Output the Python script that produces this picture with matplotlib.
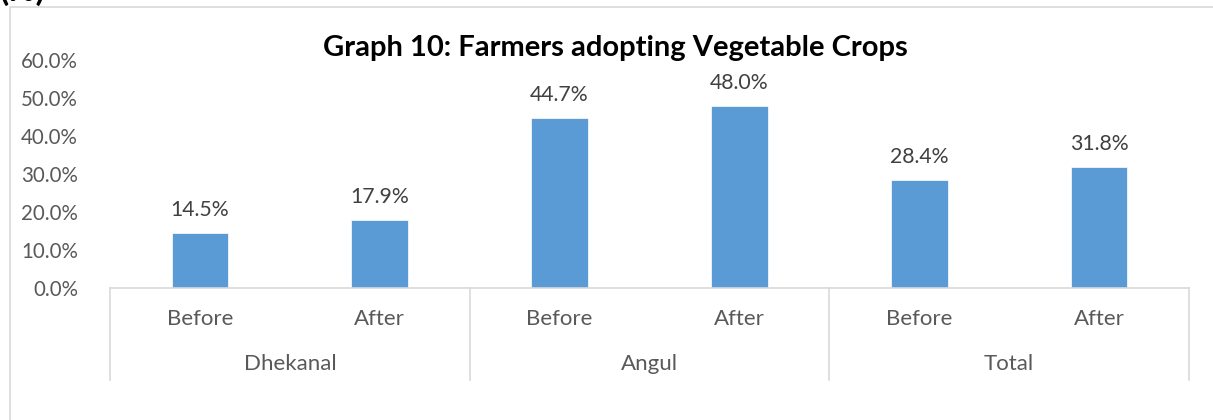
import matplotlib.pyplot as plt
from matplotlib.patches import Rectangle
import matplotlib.transforms as mtransforms

# Share of farmers growing vegetable crops, per block
regions = ['Dhekanal', 'Angul', 'Total']
periods = ['Before', 'After']
adoption = [14.5, 17.9, 44.7, 48.0, 28.4, 31.8]
y_ticks = [0, 10, 20, 30, 40, 50, 60]

plt.rcParams['font.family'] = ['Lato', 'DejaVu Sans']

W, H = 1213, 420
fig = plt.figure(figsize=(W / 100, H / 100), dpi=100)
fig.patch.set_facecolor('white')

# Outer chart frame
fig.patches.append(Rectangle((10 / W, -0.1), 1.2, 1 - 7 / H + 0.1,
                             transform=fig.transFigure, fill=False,
                             edgecolor='#D9D9D9', linewidth=1.2))
fig.text(0, 1 - 6 / H, '(%)', ha='left', va='bottom', fontsize=24,
         color='#000000', fontweight='bold')

ax = fig.add_axes([110 / W, 1 - 288 / H, (1189 - 110) / W, (288 - 60) / H])

x = list(range(len(adoption)))
ax.bar(x, adoption, width=0.315, color='#5B9BD5', edgecolor='white', linewidth=0.5, zorder=2)

for xi, v in zip(x, adoption):
    ax.text(xi, v + 3.4, f'{v:.1f}%', ha='center', va='bottom',
            fontsize=15.3, color='#404040')

ax.set_xlim(-0.5, len(adoption) - 0.5)
ax.set_ylim(0, 60)
ax.set_yticks(y_ticks)
ax.set_yticklabels([f'{t:.1f}%' for t in y_ticks], fontsize=14.8, color='#595959')
ax.tick_params(axis='y', length=0, pad=23)
ax.set_xticks([])

for side in ['left', 'right', 'top']:
    ax.spines[side].set_visible(False)
ax.spines['bottom'].set_color('#D9D9D9')
ax.spines['bottom'].set_linewidth(1.2)

# Two-level category axis: period labels, then region labels with dividers
trans = mtransforms.blended_transform_factory(ax.transData, ax.transAxes)
axis_h = 288 - 60
for i, lab in enumerate(periods * len(regions)):
    ax.text(i, -(319 - 288) / axis_h, lab, transform=trans, ha='center',
            va='center', fontsize=16, color='#595959')
for g, name in enumerate(regions):
    ax.text(2 * g + 0.5, -(364 - 288) / axis_h, name, transform=trans,
            ha='center', va='center', fontsize=16, color='#595959')
for b in [-0.5, 1.5, 3.5, 5.5]:
    ax.plot([b, b], [0, -(380 - 288) / axis_h], transform=trans, color='#D9D9D9',
            linewidth=1.2, clip_on=False)

fig.text(615 / W, 1 - 48 / H, 'Graph 10: Farmers adopting Vegetable Crops',
         ha='center', va='center', fontsize=21, fontweight='bold', color='#000000')

fig.savefig('out.png', dpi=100, facecolor='white')
